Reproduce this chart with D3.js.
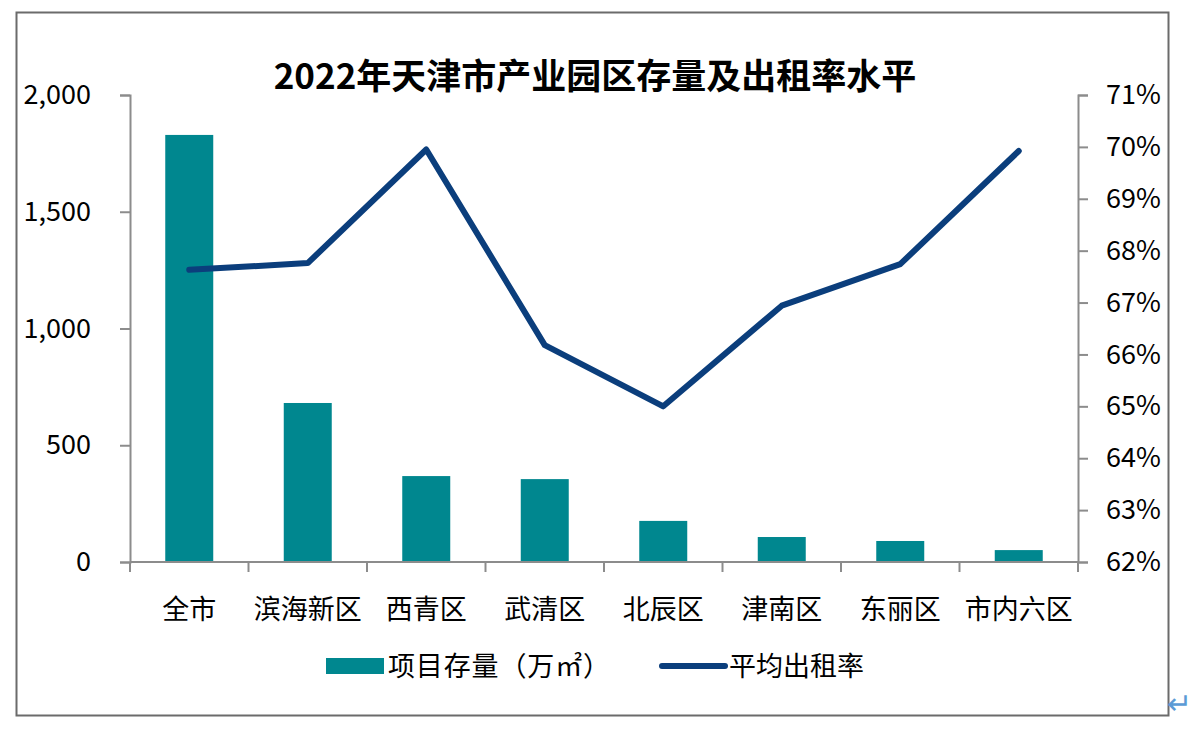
<!DOCTYPE html>
<html>
<head>
<meta charset="utf-8">
<script src="https://cdn.jsdelivr.net/npm/d3@7"></script>
<style>
  body { margin: 0; background: #fff; }
  text { font-family: "Noto Sans CJK SC", "Noto Sans", sans-serif; }
</style>
</head>
<body>
<div id="chart"></div>
<script>
// data
let districts = ['全市', '滨海新区', '西青区', '武清区', '北辰区', '津南区', '东丽区', '市内六区'];
let stock = [1829, 681, 368, 355, 176, 107, 90, 51];          // 项目存量（万㎡）
let rentRate = [0.6763, 0.6776, 0.6995, 0.6618, 0.6500, 0.6694, 0.6774, 0.6992]; // 平均出租率
let leftTicks = [0, 500, 1000, 1500, 2000];
let rightTicks = [0.62, 0.63, 0.64, 0.65, 0.66, 0.67, 0.68, 0.69, 0.70, 0.71];

let width = 1192,
    height = 744,
    barColor = '#00878f',
    lineColor = '#0b3e7c',
    axisColor = '#8c8c8c',
    fs = 27,
    plot = {left: 130, right: 1078, top: 95, bottom: 562};

let svg = d3.select('#chart').append('svg')
    .attr('width', width)
    .attr('height', height);

// outer frame
svg.append('rect')
    .attr('x', 16.5).attr('y', 12.5)
    .attr('width', 1152).attr('height', 703)
    .attr('fill', 'none')
    .attr('stroke', '#6b6b6b')
    .attr('stroke-width', 2);

// paragraph mark at bottom right
svg.append('text')
    .attr('x', 1167).attr('y', 714)
    .attr('font-size', 30)
    .attr('font-family', '"DejaVu Sans", sans-serif')
    .attr('fill', '#5b9bd5')
    .text('↵');

let x = d3.scaleBand()
    .domain(districts)
    .range([plot.left, plot.right])
    .paddingInner(0.595)
    .paddingOuter(0.2975);

let yLeft = d3.scaleLinear().domain([0, 2000]).range([plot.bottom, plot.top]);
let yRight = d3.scaleLinear().domain([0.62, 0.71]).range([plot.bottom, plot.top]);

// title
svg.append('text')
    .attr('x', 595).attr('y', 89)
    .attr('text-anchor', 'middle')
    .attr('font-size', 35)
    .attr('font-weight', 'bold')
    .text('2022年天津市产业园区存量及出租率水平');

// bars
svg.append('g').selectAll('rect')
    .data(stock)
    .enter().append('rect')
    .attr('x', (d, i) => x(districts[i]))
    .attr('y', (d) => yLeft(d))
    .attr('width', x.bandwidth())
    .attr('height', (d) => yLeft(0) - yLeft(d))
    .attr('fill', barColor);

// axes
let styleAxis = (g) => {
    g.select('.domain').attr('stroke', axisColor).attr('stroke-width', 2);
    g.selectAll('.tick line').attr('stroke', axisColor).attr('stroke-width', 2);
    g.selectAll('.tick text').attr('font-size', fs).attr('fill', '#000')
        .attr('font-family', '"Noto Sans CJK SC", sans-serif');
};

svg.append('g')
    .attr('transform', 'translate(' + plot.left + ',0)')
    .call(d3.axisLeft(yLeft).tickValues(leftTicks).tickFormat(d3.format(',')).tickSizeInner(10).tickSizeOuter(10).tickPadding(29))
    .call(styleAxis);

svg.append('g')
    .attr('transform', 'translate(' + plot.right + ',0)')
    .call(d3.axisRight(yRight).tickValues(rightTicks).tickFormat(d3.format('.0%')).tickSizeInner(10).tickSizeOuter(10).tickPadding(18))
    .call(styleAxis);

// x axis: ticks sit on category boundaries
let xAxis = svg.append('g')
    .attr('transform', 'translate(0,' + plot.bottom + ')');
xAxis.append('line')
    .attr('x1', plot.left).attr('x2', plot.right)
    .attr('stroke', axisColor).attr('stroke-width', 2);
xAxis.selectAll('line.tk')
    .data(d3.range(districts.length + 1))
    .enter().append('line')
    .attr('class', 'tk')
    .attr('x1', (d) => plot.left + d * x.step())
    .attr('x2', (d) => plot.left + d * x.step())
    .attr('y1', 0).attr('y2', 10)
    .attr('stroke', axisColor).attr('stroke-width', 2);
xAxis.selectAll('text')
    .data(districts)
    .enter().append('text')
    .attr('x', (d) => x(d) + x.bandwidth() / 2)
    .attr('y', 57)
    .attr('text-anchor', 'middle')
    .attr('font-size', fs)
    .text((d) => d);

// rent rate line
let line = d3.line()
    .x((d, i) => x(districts[i]) + x.bandwidth() / 2)
    .y((d) => yRight(d));

svg.append('path')
    .datum(rentRate)
    .attr('d', line)
    .attr('fill', 'none')
    .attr('stroke', lineColor)
    .attr('stroke-width', 6)
    .attr('stroke-linecap', 'round')
    .attr('stroke-linejoin', 'round');

// legend
let legend = svg.append('g').attr('transform', 'translate(0,666)');
legend.append('rect')
    .attr('x', 326).attr('y', -8)
    .attr('width', 58).attr('height', 16)
    .attr('fill', barColor);
legend.append('text')
    .attr('x', 388).attr('y', 10)
    .attr('font-size', fs)
    .attr('textLength', 222)
    .attr('lengthAdjust', 'spacing')
    .text('项目存量（万㎡）');
legend.append('line')
    .attr('x1', 662).attr('x2', 725)
    .attr('stroke', lineColor)
    .attr('stroke-width', 6)
    .attr('stroke-linecap', 'round');
legend.append('text')
    .attr('x', 729).attr('y', 10)
    .attr('font-size', fs)
    .text('平均出租率');
</script>
</body>
</html>
